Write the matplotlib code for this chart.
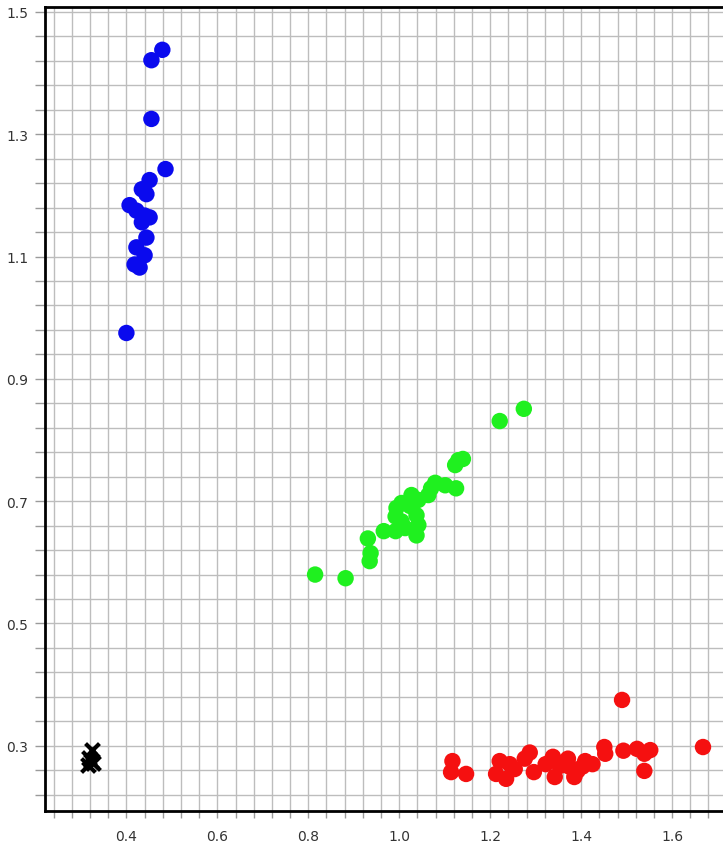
import numpy as np
import matplotlib
matplotlib.use("Agg")
import matplotlib.pyplot as plt

blue_x = [0.479, 0.455, 0.455, 0.486, 0.451, 0.434, 0.444, 0.407, 0.422, 0.440,
          0.451, 0.434, 0.444, 0.422, 0.440, 0.418, 0.429, 0.400]
blue_y = [1.438, 1.421, 1.325, 1.243, 1.225, 1.210, 1.202, 1.184, 1.175, 1.167,
          1.164, 1.156, 1.131, 1.115, 1.102, 1.087, 1.082, 0.975]

green_x = [1.274, 1.221, 1.130, 1.123, 1.140, 1.125, 1.101, 1.079, 1.070, 1.064,
           1.042, 1.027, 1.005, 0.994, 0.992, 1.005, 1.038, 1.042, 1.038, 1.013,
           0.992, 0.966, 1.024, 0.931, 0.937, 0.935, 0.815, 0.882]
green_y = [0.851, 0.831, 0.767, 0.759, 0.769, 0.721, 0.726, 0.730, 0.721, 0.710,
           0.702, 0.710, 0.697, 0.689, 0.675, 0.667, 0.677, 0.661, 0.644, 0.656,
           0.651, 0.651, 0.692, 0.639, 0.615, 0.602, 0.580, 0.574]

red_x = [1.490, 1.668, 1.493, 1.523, 1.539, 1.552, 1.539, 1.451, 1.453, 1.117,
         1.114, 1.147, 1.213, 1.221, 1.235, 1.243, 1.254, 1.276, 1.287, 1.296,
         1.322, 1.338, 1.342, 1.353, 1.371, 1.374, 1.385, 1.392, 1.409, 1.425, 1.403]
red_y = [0.375, 0.298, 0.292, 0.295, 0.287, 0.293, 0.259, 0.298, 0.287, 0.275,
         0.257, 0.254, 0.254, 0.275, 0.246, 0.270, 0.262, 0.279, 0.289, 0.257,
         0.270, 0.282, 0.249, 0.267, 0.279, 0.266, 0.249, 0.259, 0.275, 0.270, 0.266]

black_x = [0.325, 0.318, 0.322, 0.316, 0.326]
black_y = [0.293, 0.280, 0.275, 0.268, 0.272]

x_major = [0.4, 0.6, 0.8, 1.0, 1.2, 1.4, 1.6]
x_labels = ["0.4", "0.6", "0.8", "1.0", "1.2", "1.4", "1.6"]
y_major = [0.3, 0.5, 0.7, 0.9, 1.1, 1.3, 1.5]
y_labels = ["0.3", "0.5", "0.7", "0.9", "1.1", "1.3", "1.5"]

fig = plt.figure(figsize=(7.23, 8.45), dpi=100)
ax = fig.add_axes([45 / 723, 33 / 845, 1 - 45 / 723, (812 - 8) / 845])

ax.scatter(blue_x, blue_y, s=140, color="#0a0aee", edgecolors="none", zorder=3)
ax.scatter(green_x, green_y, s=140, color="#1ff01f", edgecolors="none", zorder=3)
ax.scatter(red_x, red_y, s=140, color="#f51010", edgecolors="none", zorder=3)
ax.scatter(black_x, black_y, s=100, marker="x", color="black", linewidths=3, zorder=3)

ax.set_xlim(0.221, 1.712)
ax.set_ylim(0.1934, 1.508)

ax.set_xticks(x_major)
ax.set_xticklabels(x_labels)
ax.set_yticks(y_major)
ax.set_yticklabels(y_labels)
ax.set_xticks(np.arange(0.24, 1.72, 0.04), minor=True)
ax.set_yticks(np.arange(0.22, 1.51, 0.04), minor=True)

ax.grid(True, which="both", color="#bdbdbd", linewidth=1.0, zorder=0)
ax.set_axisbelow(True)
ax.tick_params(which="both", direction="out", length=7, width=1, color="#9a9a9a",
               labelsize=10, labelcolor="#333333")
ax.tick_params(axis="x", which="both", length=5, pad=8)
ax.tick_params(axis="y", which="both", pad=5)

for side in ["left", "bottom", "top"]:
    ax.spines[side].set_color("black")
    ax.spines[side].set_linewidth(2)
ax.spines["right"].set_visible(False)

fig.savefig("out.png", dpi=100)
